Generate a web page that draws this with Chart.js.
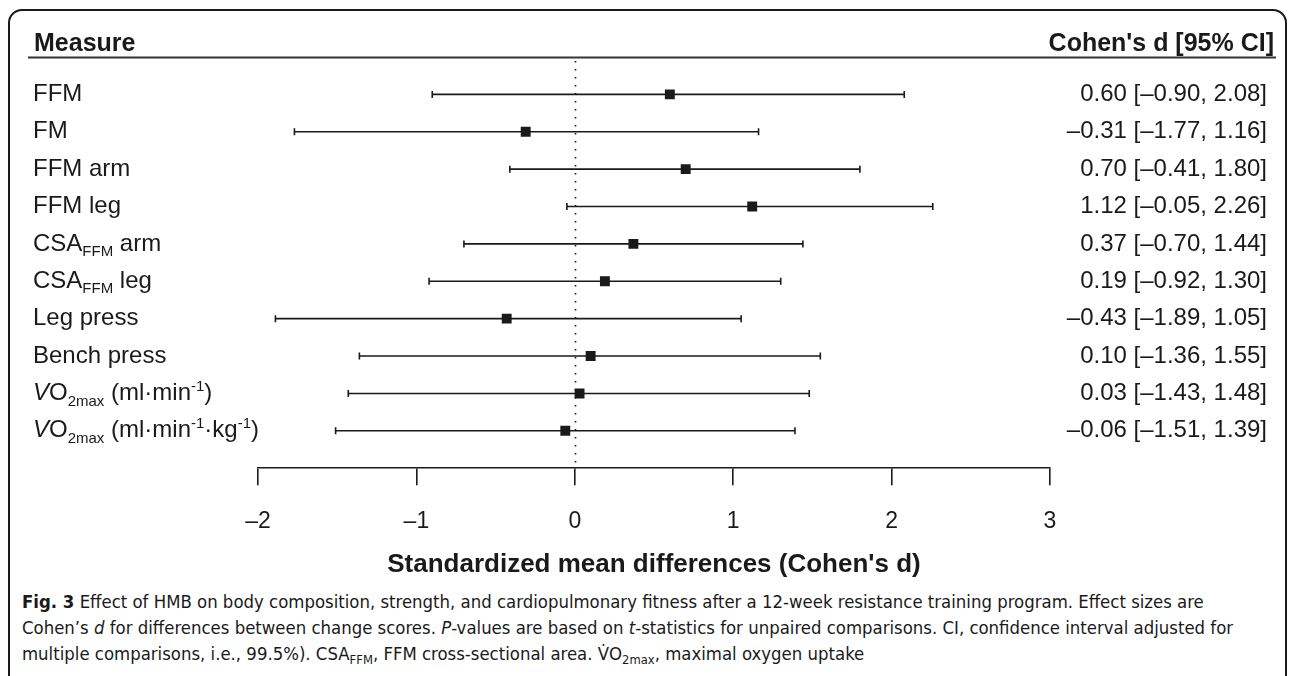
<!DOCTYPE html>
<html><head><meta charset="utf-8">
<script src="https://cdn.jsdelivr.net/npm/chart.js@4.4.0/dist/chart.umd.min.js"></script>
<style>
html,body{margin:0;padding:0;background:#fff;width:1292px;height:676px;overflow:hidden;}
#frame{position:absolute;left:8px;top:9px;width:1279px;height:740px;border:2px solid #1a1a1a;border-radius:14px;box-sizing:border-box;}
#wrap{position:absolute;left:0;top:0;width:1292px;height:585px;}
#cap{position:absolute;left:22px;top:589px;white-space:nowrap;font-family:"Liberation Sans Narrow","DejaVu Sans Condensed",sans-serif;font-size:18.4px;line-height:26px;color:#1a1a1a;}
#cap sub{font-size:70%;vertical-align:baseline;position:relative;top:4px;}
</style></head><body>
<div id="frame"></div>
<div id="wrap"><canvas id="c"></canvas></div>
<div id="cap"><b>Fig. 3</b> Effect of HMB on body composition, strength, and cardiopulmonary fitness after a 12-week resistance training program. Effect sizes are<br>Cohen’s <i>d</i> for differences between change scores. <i>P</i>-values are based on <i>t</i>-statistics for unpaired comparisons. CI, confidence interval adjusted for<br>multiple comparisons, i.e., 99.5%). CSA<sub>FFM</sub>, FFM cross-sectional area. V̇O<sub>2max</sub>, maximal oxygen uptake</div>
<script>
// ---- data ----
const measures = [
  "FFM",
  "FM",
  "FFM arm",
  "FFM leg",
  "CSA_{FFM} arm",
  "CSA_{FFM} leg",
  "Leg press",
  "Bench press",
  "*V*O_{2max} (ml·min^{-1})",
  "*V*O_{2max} (ml·min^{-1}·kg^{-1})"
];
const estimates = [0.60, -0.31, 0.70, 1.12, 0.37, 0.19, -0.43, 0.10, 0.03, -0.06];
const lower     = [-0.90, -1.77, -0.41, -0.05, -0.70, -0.92, -1.89, -1.36, -1.43, -1.51];
const upper     = [2.08, 1.16, 1.80, 2.26, 1.44, 1.30, 1.05, 1.55, 1.48, 1.39];
const xTicks = [-2, -1, 0, 1, 2, 3];
const headerLeft = "Measure";
const headerRight = "Cohen's d [95% CI]";
const xTitle = "Standardized mean differences (Cohen's d)";

const INK = '#1a1a1a';
const FAM = '"Liberation Sans", Arial, Helvetica, sans-serif';
const fmt = v => (v < 0 ? '\u2013' : '') + Math.abs(v).toFixed(2);
const fmtTick = v => (v < 0 ? '\u2013' : '') + Math.abs(v);

function parseRich(s) {
  const segs = [];
  let i = 0, buf = '', italic = false;
  const push = (t, mode) => { if (t) segs.push({t, mode, italic}); };
  while (i < s.length) {
    const c = s[i];
    if ((c === '_' || c === '^') && s[i+1] === '{') {
      push(buf, 'n'); buf = '';
      const end = s.indexOf('}', i);
      push(s.slice(i+2, end), c === '_' ? 'sub' : 'sup');
      i = end + 1; continue;
    }
    if (c === '*') { push(buf, 'n'); buf = ''; italic = !italic; i++; continue; }
    buf += c; i++;
  }
  push(buf, 'n');
  return segs;
}

function drawRich(ctx, s, x, y, size) {
  const segs = parseRich(s);
  ctx.textBaseline = 'middle';
  ctx.textAlign = 'left';
  for (const sg of segs) {
    let fs = size, dy = 0;
    if (sg.mode === 'sub') { fs = Math.round(size * 0.62); dy = 8; }
    if (sg.mode === 'sup') { fs = Math.round(size * 0.62); dy = -7; }
    ctx.font = (sg.italic ? 'italic ' : '') + fs + 'px ' + FAM;
    ctx.fillText(sg.t, x, y + dy);
    x += ctx.measureText(sg.t).width;
  }
}

const forestPlugin = {
  id: 'forest',
  beforeDatasetsDraw(chart) {
    const {ctx, scales: {x, y}, chartArea} = chart;
    ctx.save();
    // dotted reference line at 0
    ctx.strokeStyle = INK;
    ctx.lineWidth = 1.6;
    ctx.setLineDash([1.6, 6.4]);
    const x0 = Math.round(x.getPixelForValue(0)) + 0.5;
    ctx.beginPath();
    ctx.moveTo(x0, chartArea.top + 4);
    ctx.lineTo(x0, chartArea.bottom - 2);
    ctx.stroke();
    ctx.setLineDash([]);
    // CI whiskers
    ctx.lineWidth = 1.6;
    for (let i = 0; i < estimates.length; i++) {
      const yp = y.getPixelForValue(i);
      const a = x.getPixelForValue(lower[i]);
      const b = x.getPixelForValue(upper[i]);
      ctx.beginPath();
      ctx.moveTo(a, yp); ctx.lineTo(b, yp);
      ctx.moveTo(a, yp - 3.5); ctx.lineTo(a, yp + 3.5);
      ctx.moveTo(b, yp - 3.5); ctx.lineTo(b, yp + 3.5);
      ctx.stroke();
    }
    ctx.restore();
  },
  afterDraw(chart) {
    const {ctx, scales: {y}} = chart;
    ctx.save();
    ctx.fillStyle = INK;
    // header
    ctx.font = 'bold 25px ' + FAM;
    ctx.textBaseline = 'middle';
    ctx.textAlign = 'left';
    ctx.fillText(headerLeft, 34, 44);
    ctx.textAlign = 'right';
    ctx.fillText(headerRight, 1274, 44);
    ctx.strokeStyle = '#333';
    ctx.lineWidth = 2;
    ctx.beginPath();
    ctx.moveTo(28, 57.5); ctx.lineTo(1276, 57.5);
    ctx.stroke();
    // rows
    for (let i = 0; i < measures.length; i++) {
      const yp = y.getPixelForValue(i);
      drawRich(ctx, measures[i], 33, yp, 24);
      ctx.font = '24px ' + FAM;
      ctx.textAlign = 'right';
      ctx.textBaseline = 'middle';
      ctx.fillText(fmt(estimates[i]) + ' [' + fmt(lower[i]) + ', ' + fmt(upper[i]) + ']', 1267, yp);
    }
    ctx.restore();
  }
};

new Chart(document.getElementById('c'), {
  type: 'scatter',
  data: {
    datasets: [{
      data: estimates.map((e, i) => ({x: e, y: i})),
      pointStyle: 'rect',
      radius: 7,
      hoverRadius: 7,
      backgroundColor: INK,
      borderColor: INK,
      borderWidth: 0
    }]
  },
  options: {
    responsive: true,
    maintainAspectRatio: false,
    animation: false,
    events: [],
    layout: {padding: {left: 258, right: 242, top: 57, bottom: 0}},
    plugins: {legend: {display: false}, tooltip: {enabled: false}},
    scales: {
      y: {type: 'linear', reverse: true, min: -1, max: 10, display: false},
      x: {
        type: 'linear', min: -2, max: 3, position: 'bottom',
        afterBuildTicks: s => { s.ticks = xTicks.map(v => ({value: v})); },
        ticks: {
          padding: 23, color: INK,
          font: {family: FAM, size: 23},
          callback: v => fmtTick(v), maxRotation: 0, autoSkip: false
        },
        grid: {drawOnChartArea: false, drawTicks: true, tickLength: 17, color: INK, lineWidth: 1.6},
        border: {display: true, color: INK, width: 1.6},
        title: {
          display: true, text: xTitle, color: INK,
          font: {family: FAM, size: 26, weight: 'bold'},
          padding: {top: -10, bottom: 5}
        }
      }
    }
  },
  plugins: [forestPlugin]
});
</script>
</body></html>
